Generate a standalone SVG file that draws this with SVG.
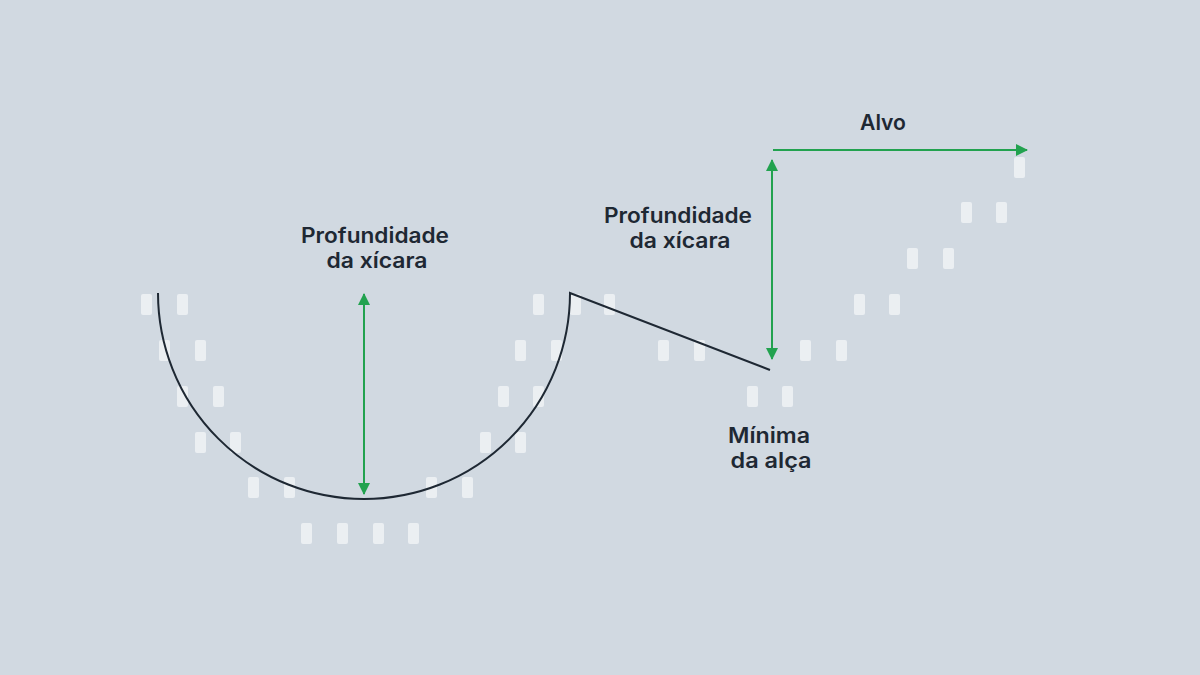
<svg xmlns="http://www.w3.org/2000/svg" width="1200" height="675" viewBox="0 0 1200 675">
<style>
.c{fill:#ebeff2}
.lbl{font-family:Inter,"Noto Sans","Liberation Sans",sans-serif;font-weight:600;font-size:21px;fill:#1e2833;text-anchor:middle}
.trend{fill:none;stroke:#1e2833;stroke-width:2}
.grn{stroke:#22a24f;stroke-width:2;fill:none}
</style>
<defs>
<marker id="ah" viewBox="0 0 12 12" refX="11" refY="6" markerWidth="12" markerHeight="12" markerUnits="userSpaceOnUse" orient="auto">
<path d="M0,0 L12,6 L0,12 Z" fill="#22a24f"/>
</marker>
</defs>
<rect width="1200" height="675" fill="#d1d9e1"/>
<g id="candles">
<rect class="c" x="141" y="294" width="11" height="21" rx="2"/>
<rect class="c" x="177" y="294" width="11" height="21" rx="2"/>
<rect class="c" x="159" y="340" width="11" height="21" rx="2"/>
<rect class="c" x="195" y="340" width="11" height="21" rx="2"/>
<rect class="c" x="177" y="386" width="11" height="21" rx="2"/>
<rect class="c" x="213" y="386" width="11" height="21" rx="2"/>
<rect class="c" x="195" y="432" width="11" height="21" rx="2"/>
<rect class="c" x="230" y="432" width="11" height="21" rx="2"/>
<rect class="c" x="248" y="477" width="11" height="21" rx="2"/>
<rect class="c" x="284" y="477" width="11" height="21" rx="2"/>
<rect class="c" x="301" y="523" width="11" height="21" rx="2"/>
<rect class="c" x="337" y="523" width="11" height="21" rx="2"/>
<rect class="c" x="373" y="523" width="11" height="21" rx="2"/>
<rect class="c" x="408" y="523" width="11" height="21" rx="2"/>
<rect class="c" x="426" y="477" width="11" height="21" rx="2"/>
<rect class="c" x="462" y="477" width="11" height="21" rx="2"/>
<rect class="c" x="480" y="432" width="11" height="21" rx="2"/>
<rect class="c" x="515" y="432" width="11" height="21" rx="2"/>
<rect class="c" x="498" y="386" width="11" height="21" rx="2"/>
<rect class="c" x="533" y="386" width="11" height="21" rx="2"/>
<rect class="c" x="515" y="340" width="11" height="21" rx="2"/>
<rect class="c" x="551" y="340" width="11" height="21" rx="2"/>
<rect class="c" x="533" y="294" width="11" height="21" rx="2"/>
<rect class="c" x="570" y="294" width="11" height="21" rx="2"/>
<rect class="c" x="604" y="294" width="11" height="21" rx="2"/>
<rect class="c" x="658" y="340" width="11" height="21" rx="2"/>
<rect class="c" x="694" y="340" width="11" height="21" rx="2"/>
<rect class="c" x="747" y="386" width="11" height="21" rx="2"/>
<rect class="c" x="782" y="386" width="11" height="21" rx="2"/>
<rect class="c" x="800" y="340" width="11" height="21" rx="2"/>
<rect class="c" x="836" y="340" width="11" height="21" rx="2"/>
<rect class="c" x="854" y="294" width="11" height="21" rx="2"/>
<rect class="c" x="889" y="294" width="11" height="21" rx="2"/>
<rect class="c" x="907" y="248" width="11" height="21" rx="2"/>
<rect class="c" x="943" y="248" width="11" height="21" rx="2"/>
<rect class="c" x="961" y="202" width="11" height="21" rx="2"/>
<rect class="c" x="996" y="202" width="11" height="21" rx="2"/>
<rect class="c" x="1014" y="157" width="11" height="21" rx="2"/>
</g>
<g id="connectors">
<path class="trend" d="M158,293 A206,206 0 0 0 570,293 L770,370"/>
<line class="grn" x1="364" y1="493" x2="364" y2="294" marker-end="url(#ah)"/>
<line class="grn" x1="364" y1="294" x2="364" y2="494" marker-end="url(#ah)"/>
<line class="grn" x1="772" y1="358" x2="772" y2="160" marker-end="url(#ah)"/>
<line class="grn" x1="772" y1="160" x2="772" y2="359" marker-end="url(#ah)"/>
<line class="grn" x1="773" y1="150" x2="1027" y2="150" marker-end="url(#ah)"/>
</g>
<g id="label-depth1">
<text class="lbl" x="375" y="243" textLength="148" lengthAdjust="spacingAndGlyphs">Profundidade</text>
<text class="lbl" x="377" y="268" textLength="101" lengthAdjust="spacingAndGlyphs">da xícara</text>
</g>
<g id="label-depth2">
<text class="lbl" x="678" y="223" textLength="148" lengthAdjust="spacingAndGlyphs">Profundidade</text>
<text class="lbl" x="680" y="248" textLength="101" lengthAdjust="spacingAndGlyphs">da xícara</text>
</g>
<g id="label-handle">
<text class="lbl" x="769" y="443" textLength="82" lengthAdjust="spacingAndGlyphs">Mínima</text>
<text class="lbl" x="771" y="468" textLength="81" lengthAdjust="spacingAndGlyphs">da alça</text>
</g>
<g id="label-target">
<text class="lbl" x="883" y="130" textLength="46" lengthAdjust="spacingAndGlyphs">Alvo</text>
</g>
</svg>
